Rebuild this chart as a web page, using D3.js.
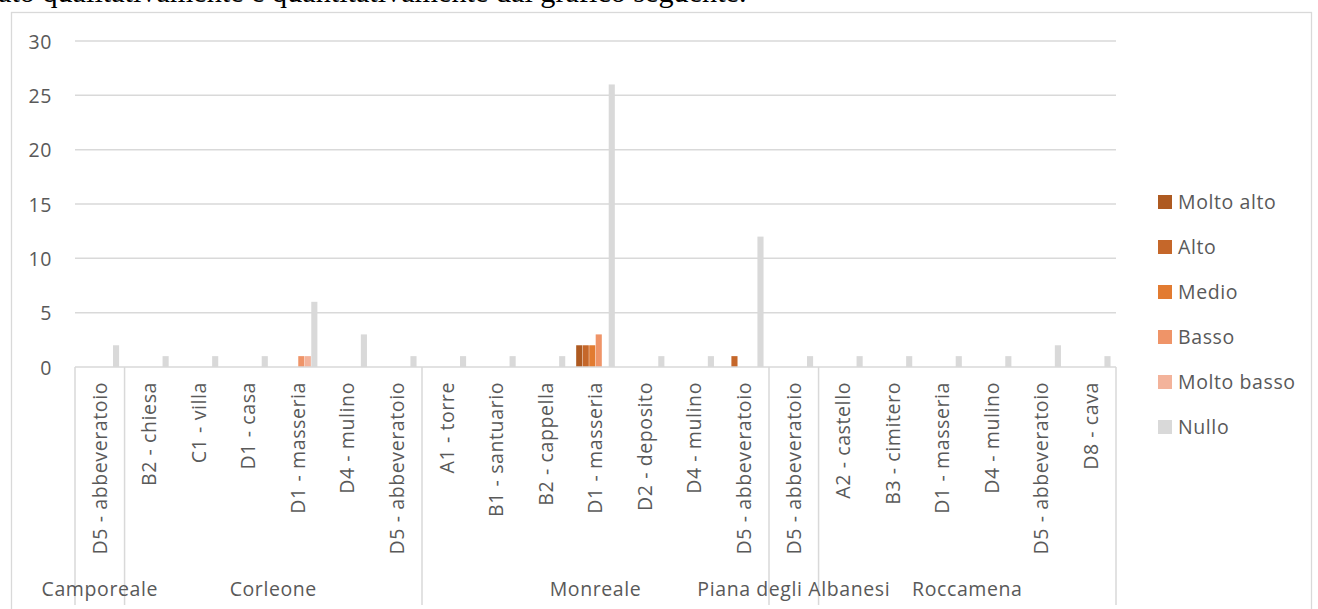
<!DOCTYPE html>
<html>
<head>
<meta charset="utf-8">
<script src="https://cdn.jsdelivr.net/npm/d3@7"></script>
<style>
  html, body { margin: 0; padding: 0; background: #fff; }
  svg { display: block; }
</style>
</head>
<body>
<svg id="chart" width="1318" height="609"></svg>
<script>
// Municipalities (outer category tier) and how many sites each one holds
const groups = ["Camporeale", "Corleone", "Monreale", "Piana degli Albanesi", "Roccamena"];
const groupSizes = [1, 6, 7, 1, 6];

// Sites (inner category tier), in order
const categories = [
  "D5 - abbeveratoio",
  "B2 - chiesa", "C1 - villa", "D1 - casa", "D1 - masseria", "D4 - mulino", "D5 - abbeveratoio",
  "A1 - torre", "B1 - santuario", "B2 - cappella", "D1 - masseria", "D2 - deposito", "D4 - mulino", "D5 - abbeveratoio",
  "D5 - abbeveratoio",
  "A2 - castello", "B3 - cimitero", "D1 - masseria", "D4 - mulino", "D5 - abbeveratoio", "D8 - cava"
];

// Series names (risk levels)
const seriesNames = ["Molto alto", "Alto", "Medio", "Basso", "Molto basso", "Nullo"];

// Counts per site for each level
const moltoAlto  = [0, 0,0,0,0,0,0, 0,0,0,2,0,0,0, 0, 0,0,0,0,0,0];
const alto       = [0, 0,0,0,0,0,0, 0,0,0,2,0,0,1, 0, 0,0,0,0,0,0];
const medio      = [0, 0,0,0,0,0,0, 0,0,0,2,0,0,0, 0, 0,0,0,0,0,0];
const basso      = [0, 0,0,0,1,0,0, 0,0,0,3,0,0,0, 0, 0,0,0,0,0,0];
const moltoBasso = [0, 0,0,0,1,0,0, 0,0,0,0,0,0,0, 0, 0,0,0,0,0,0];
const nullo      = [2, 1,1,1,6,3,1, 1,1,1,26,1,1,12, 1, 1,1,1,1,2,1];

const yTicks = [0, 5, 10, 15, 20, 25, 30];

const seriesValues = [moltoAlto, alto, medio, basso, moltoBasso, nullo];
const colors = ["#AE5A21", "#C5672A", "#E27B31", "#EF9468", "#F3B39B", "#D9D9D9"];

const svg = d3.select("#chart");
const font = "'Open Sans', Lato, sans-serif";
const fontSize = 19.5;
const spacing = "0.6px";
const textColor = "#595959";
const lineColor = "#D9D9D9";

// Running document text above the chart
svg.append("text")
  .attr("x", -2).attr("y", 1.5)
  .attr("font-family", "'Liberation Serif', 'Times New Roman', serif")
  .attr("font-size", 30.2)
  .attr("fill", "#000")
  .text("ato qualitativamente e quantitativamente dal grafico seguente.");

// Chart frame
svg.append("rect")
  .attr("x", 11.5).attr("y", 12.5)
  .attr("width", 1300).attr("height", 620)
  .attr("fill", "#fff")
  .attr("stroke", lineColor).attr("stroke-width", 1.3);

const plotLeft = 75, plotRight = 1116, plotTop = 41, plotBottom = 367;

const x = d3.scaleBand().domain(d3.range(categories.length)).range([plotLeft, plotRight]);
const xs = d3.scaleBand().domain(seriesNames).range([0, x.bandwidth()])
  .paddingInner(0.06).paddingOuter(0.84);
const y = d3.scaleLinear().domain([0, 30]).range([plotBottom, plotTop]);

// Horizontal gridlines
svg.append("g").selectAll("line")
  .data(yTicks.filter(d => d > 0))
  .join("line")
  .attr("x1", plotLeft).attr("x2", plotRight)
  .attr("y1", d => y(d)).attr("y2", d => y(d))
  .attr("stroke", lineColor).attr("stroke-width", 1.5);

// Y axis labels
const yAxis = d3.axisLeft(y).tickValues(yTicks).tickSize(0).tickPadding(0);
const yg = svg.append("g").attr("transform", `translate(${plotLeft - 23},0)`).call(yAxis);
yg.select(".domain").remove();
yg.selectAll("text")
  .attr("font-family", font).attr("font-size", fontSize).attr("fill", textColor)
  .attr("letter-spacing", spacing)
  .attr("dy", "0.36em");

// Bars
seriesNames.forEach((name, si) => {
  svg.append("g").selectAll("rect")
    .data(seriesValues[si].map((v, i) => ({ v, i })).filter(d => d.v > 0))
    .join("rect")
    .attr("x", d => x(d.i) + xs(name))
    .attr("width", xs.bandwidth())
    .attr("y", d => y(d.v))
    .attr("height", d => y(0) - y(d.v))
    .attr("fill", colors[si]);
});

// Category axis line
svg.append("line")
  .attr("x1", plotLeft).attr("x2", plotRight)
  .attr("y1", plotBottom).attr("y2", plotBottom)
  .attr("stroke", lineColor).attr("stroke-width", 1.5);

// Group separators
const bounds = [0];
groupSizes.forEach(n => bounds.push(bounds[bounds.length - 1] + n));
const edge = i => i === categories.length ? plotRight : x(i);
svg.append("g").selectAll("line")
  .data(bounds)
  .join("line")
  .attr("x1", d => edge(d)).attr("x2", d => edge(d))
  .attr("y1", plotBottom).attr("y2", 605)
  .attr("stroke", lineColor).attr("stroke-width", 1.5);

// Site labels (rotated)
svg.append("g").selectAll("text")
  .data(categories)
  .join("text")
  .attr("transform", (d, i) => `translate(${x(i) + x.bandwidth() / 2},382) rotate(-90)`)
  .attr("text-anchor", "end")
  .attr("dy", "0.35em")
  .attr("font-family", font).attr("font-size", fontSize).attr("fill", textColor)
  .attr("letter-spacing", spacing)
  .text(d => d);

// Municipality labels
svg.append("g").selectAll("text")
  .data(groups)
  .join("text")
  .attr("x", (d, gi) => (edge(bounds[gi]) + edge(bounds[gi + 1])) / 2)
  .attr("y", 596)
  .attr("text-anchor", "middle")
  .attr("font-family", font).attr("font-size", fontSize).attr("fill", textColor)
  .attr("letter-spacing", spacing)
  .text(d => d);

// Legend
const legend = svg.append("g").attr("transform", "translate(1158,202)");
const li = legend.selectAll("g").data(seriesNames).join("g")
  .attr("transform", (d, i) => `translate(0,${i * 45})`);
li.append("rect").attr("x", 0).attr("y", -7).attr("width", 14).attr("height", 14)
  .attr("fill", (d, i) => colors[i]);
li.append("text").attr("x", 20).attr("y", 0).attr("dy", "0.36em")
  .attr("font-family", font).attr("font-size", fontSize).attr("fill", textColor)
  .attr("letter-spacing", spacing)
  .text(d => d);
</script>
</body>
</html>
